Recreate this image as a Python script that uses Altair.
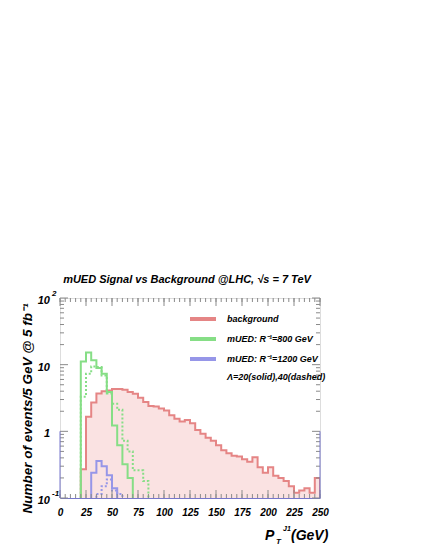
import altair as alt
import pandas as pd

# ---------------- data ----------------
BIN = 5
FLOOR = 0.01  # below the axis minimum; used only to close histogram outlines (clipped)

bg_start = 20
bg_vals = [0.27, 1.66, 2.7, 3.7, 4.0, 4.1, 4.3, 4.3, 4.2, 3.9,
           3.65, 3.2, 2.75, 2.4, 2.35, 2.2, 2.05, 1.75, 1.55, 1.4,
           1.48, 1.32, 1.05, 0.92, 0.8, 0.72, 0.62, 0.52, 0.47, 0.43,
           0.42, 0.38, 0.35, 0.41, 0.29, 0.24, 0.29, 0.215, 0.2, 0.18,
           0.15, 0.12, 0.13, 0.14, 0.12, 0.2]

g800_solid_start = 20
g800_solid_vals = [11.2, 15.2, 11.6, 8.9, 7.3, 3.9, 1.22, 0.62, 0.32, 0.2]

g800_dash_start = 20
g800_dash_vals = [3.3, 7.3, 9.4, 9.2, 6.9, 3.7, 2.6, 2.1, 0.72, 0.5, 0.26, 0.26, 0.18]

b1200_solid_start = 30
b1200_solid_vals = [0.24, 0.36, 0.30, 0.22, 0.14]

b1200_dash_start = 35
b1200_dash_vals = [0.115, 0.15, 0.19, 0.13, 0.115]

x_ticks = list(range(0, 251, 25))
x_minor = list(range(0, 251, 5))
y_major = [0.1, 1, 10, 100]
y_major_base = ["10", "1", "10", "10"]
y_major_exp = ["-1", "", "", "2"]
y_minor = [k * 10 ** e for e in (-1, 0, 1) for k in range(2, 10)]

title_text = "mUED Signal vs Background  @LHC, \u221as = 7 TeV"
y_title = "Number of events/5 GeV @ 5 fb\u207b\u00b9"
legend_labels = ["background", "mUED: R\u207b\u00b9=800 GeV", "mUED: R\u207b\u00b9=1200 GeV"]
legend_note = "\u039b=20(solid),40(dashed)"

# ---------------- styles ----------------
W, H = 260, 200
FONT = "Liberation Sans"
RED = "#e58585"
RED_FILL = "#fae2e2"
GREEN = "#86de86"
BLUE = "#9696e8"
AX_BLUE = "#7777cc"
TICK = "#8a8a8a"

xs = alt.Scale(domain=[0, 250], nice=False, zero=False)
ys = alt.Scale(type="log", domain=[0.1, 100], nice=False)

x_axis = alt.Axis(values=x_ticks, labelFont=FONT, labelFontStyle="italic",
                  labelFontWeight="bold", labelFontSize=10, labelColor="black",
                  ticks=False, tickSize=0, labelPadding=9, domain=True,
                  domainColor=AX_BLUE, grid=False, title=None, labelFlush=False)
y_axis = alt.Axis(values=y_major, labels=False, ticks=False, tickSize=0, domain=False,
                  grid=False, title=y_title, titleFont=FONT, titleFontStyle="italic",
                  titleFontWeight="bold", titleFontSize=13.5, titleColor="black",
                  titleX=-29, titleY=110, titleAngle=270, titleAlign="center",
                  titleBaseline="alphabetic")

X = lambda f: alt.X(f, scale=xs, axis=x_axis)
Y = lambda f: alt.Y(f, scale=ys, axis=y_axis)


def steps(start, vals):
    xv = [start - BIN] + [start + BIN * i for i in range(len(vals))] + [start + BIN * len(vals)]
    yv = [FLOOR] + list(vals) + [FLOOR]
    return pd.DataFrame({"x": xv, "y": yv})


# filled area: bin edges with the last value repeated, down to the axis floor
area_df = pd.DataFrame({
    "x": [bg_start + BIN * i for i in range(len(bg_vals) + 1)],
    "y": list(bg_vals) + [bg_vals[-1]],
    "base": [y_major[0]] * (len(bg_vals) + 1),
})
bg_fill = alt.Chart(area_df).mark_area(interpolate="step-after", fill=RED_FILL,
                                       opacity=1).encode(
    x=X("x:Q"), y=Y("y:Q"), y2="base:Q",
)


def hist_line(start, vals, color, dash=None):
    kw = dict(interpolate="step-after", color=color, strokeWidth=2, clip=True)
    if dash:
        kw["strokeDash"] = dash
    return alt.Chart(steps(start, vals)).mark_line(**kw).encode(
        x=X("x:Q"), y=Y("y:Q"), order="x:Q",
    )


bg_line = hist_line(bg_start, bg_vals, RED)
g_solid = hist_line(g800_solid_start, g800_solid_vals, GREEN)
g_dash = hist_line(g800_dash_start, g800_dash_vals, GREEN, [2, 2])
b_solid = hist_line(b1200_solid_start, b1200_solid_vals, BLUE)
b_dash = hist_line(b1200_dash_start, b1200_dash_vals, BLUE, [2, 2])

# ---- inward ticks on all four sides ----
xmin_df = pd.DataFrame({"x": x_minor})
xmaj_df = pd.DataFrame({"x": x_ticks})
ymin_df = pd.DataFrame({"y": y_minor})
ymaj_df = pd.DataFrame({"y": y_major})


def xtick(df, y0, y1):
    return alt.Chart(df).mark_rule(color=TICK, strokeWidth=1).encode(
        x=X("x:Q"), y=alt.value(y0), y2=alt.value(y1))


def ytick(df, x0, x1):
    return alt.Chart(df).mark_rule(color=TICK, strokeWidth=1).encode(
        y=Y("y:Q"), x=alt.value(x0), x2=alt.value(x1))


ticks = [
    xtick(xmin_df, H, H - 4), xtick(xmaj_df, H, H - 8),
    xtick(xmin_df, 0, 4), xtick(xmaj_df, 0, 8),
    ytick(ymin_df, 0, 4), ytick(ymaj_df, 0, 8),
    ytick(ymin_df, W, W - 4), ytick(ymaj_df, W, W - 8),
]

# blue lower parts of the side frames
side_df = pd.DataFrame({"y": [y_major[1]], "lo": [y_major[0]]})
side_left = alt.Chart(side_df).mark_rule(color=AX_BLUE, strokeWidth=1).encode(
    y=Y("y:Q"), y2="lo:Q", x=alt.value(0))
side_right = alt.Chart(side_df).mark_rule(color=AX_BLUE, strokeWidth=1).encode(
    y=Y("y:Q"), y2="lo:Q", x=alt.value(W))

# ---- y tick labels (10^n style) ----
ylab_df = pd.DataFrame({"y": y_major, "base": y_major_base, "exp": y_major_exp})
ylab_base = alt.Chart(ylab_df).mark_text(
    align="right", baseline="middle", dy=3, font=FONT, fontStyle="italic",
    fontWeight="bold", fontSize=11, color="black").encode(
    y=Y("y:Q"), x=alt.value(-10), text="base:N")
ylab_exp = alt.Chart(ylab_df).mark_text(
    align="left", baseline="middle", dy=-4, font=FONT, fontStyle="italic",
    fontWeight="bold", fontSize=8, color="black").encode(
    y=Y("y:Q"), x=alt.value(-8), text="exp:N")


# ---- x title: P_T^{J1}(GeV) ----
def txt(s, x, y, size, align="left"):
    return alt.Chart(pd.DataFrame({"t": [s]})).mark_text(
        align=align, baseline="alphabetic", font=FONT, fontStyle="italic",
        fontWeight="bold", fontSize=size, color="black").encode(
        x=alt.value(x), y=alt.value(y), text="t:N")


xt = [txt("P", 205, 242, 14), txt("T", 216, 246, 8), txt("J1", 223, 233, 7),
      txt("(GeV)", 231, 242, 14)]

# ---- legend ----
leg_colors = [RED, GREEN, BLUE]
leg = []
for i, (lab, col) in enumerate(zip(legend_labels, leg_colors)):
    yy = 21 + 20 * i
    leg.append(alt.Chart(pd.DataFrame({"t": [lab]})).mark_rule(color=col, strokeWidth=4).encode(
        x=alt.value(130), x2=alt.value(156), y=alt.value(yy)))
    leg.append(alt.Chart(pd.DataFrame({"t": [lab]})).mark_text(
        align="left", baseline="middle", font=FONT, fontStyle="italic", fontWeight="bold",
        fontSize=9, color="black").encode(x=alt.value(167), y=alt.value(yy), text="t:N"))
leg.append(alt.Chart(pd.DataFrame({"t": [legend_note]})).mark_text(
    align="left", baseline="middle", font=FONT, fontStyle="italic", fontWeight="bold",
    fontSize=9, color="black").encode(x=alt.value(167), y=alt.value(79), text="t:N"))

chart = alt.layer(
    bg_fill, bg_line, g_solid, g_dash, b_solid, b_dash,
    *ticks, side_left, side_right, ylab_base, ylab_exp, *xt, *leg,
).properties(
    width=W, height=H,
    title=alt.TitleParams(title_text, font=FONT, fontSize=11, fontStyle="italic",
                          fontWeight="bold", anchor="middle", dx=-3, offset=5, color="black"),
    autosize=alt.AutoSizeParams(type="none"),
    padding={"left": 52, "top": 290, "right": 10, "bottom": 50},
).configure_view(stroke="#999999", strokeWidth=1).configure(background="white")

chart.save("out.html", embed_options={"renderer": "svg", "actions": False})
